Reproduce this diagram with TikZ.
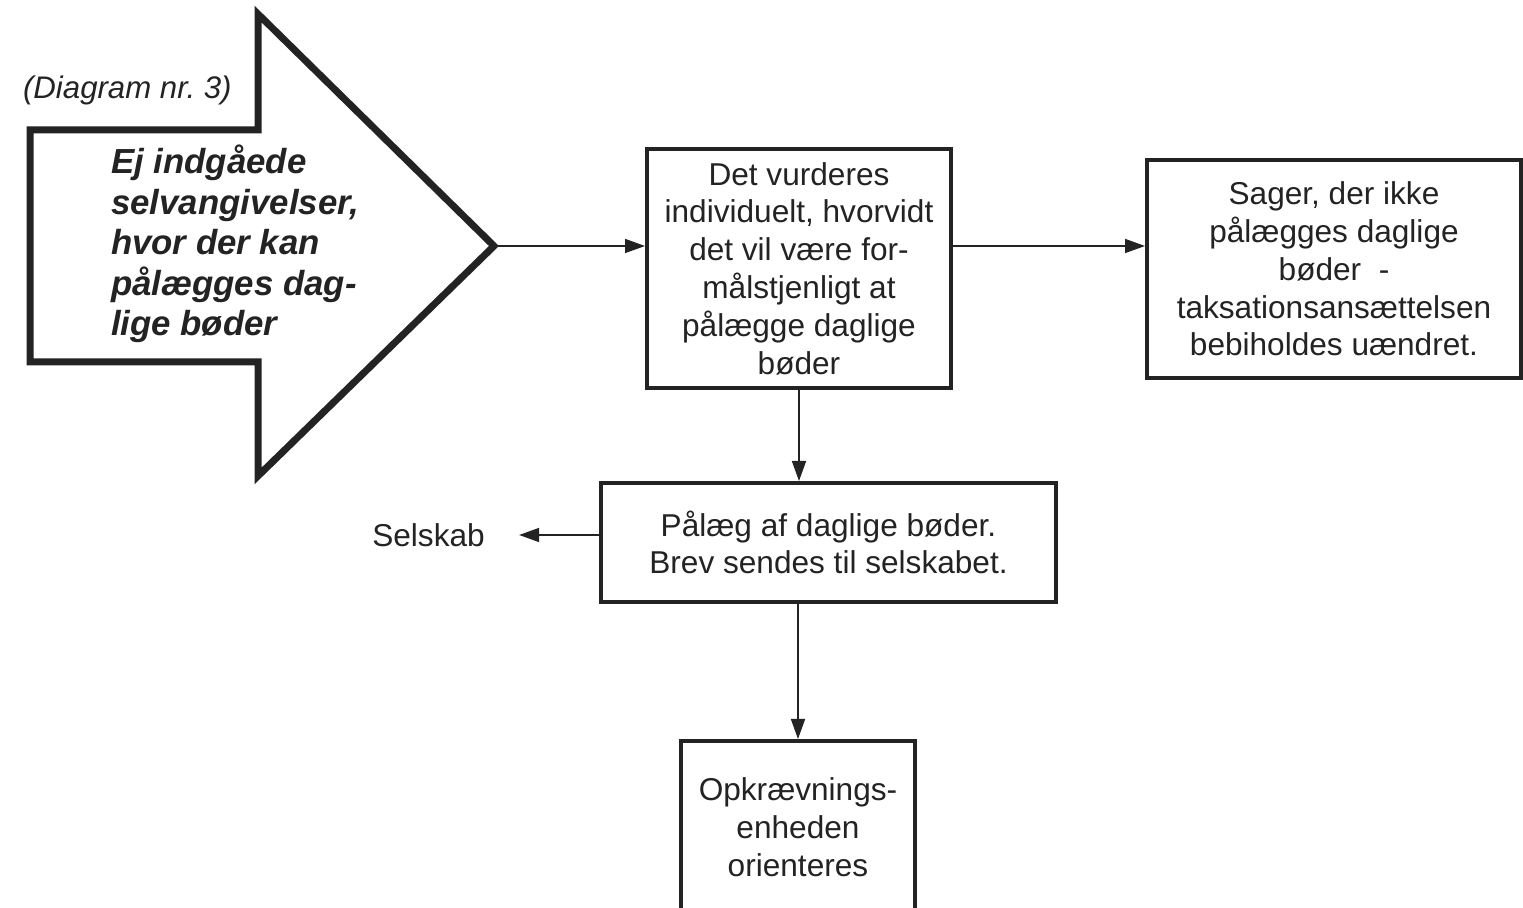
\documentclass[tikz,border=0pt]{standalone}
\usepackage{fontspec}
\setmainfont{Liberation Sans}
\usetikzlibrary{arrows.meta}
\definecolor{ink}{HTML}{232323}
\newcommand{\boxfont}{\fontsize{15.8}{18.9}\selectfont}
\begin{document}
\begin{tikzpicture}[x=0.5pt,y=-0.5pt,
  every node/.style={text=ink},
  flowbox/.style={draw=ink, line width=2pt, fill=white, align=center, inner sep=0pt, font=\boxfont},
  conn/.style={draw=ink, line width=0.8pt, -{Triangle[length=10pt,width=7pt]}}]
  \useasboundingbox (0,0) rectangle (1523,908);
  \clip (0,0) rectangle (1523,908);
  \fill[white] (0,0) rectangle (1523,908);

  % big entry arrow
  \draw[ink, line width=3.5pt, line join=miter]
    (30,130) -- (258,130) -- (258,14) -- (494,246) -- (258,476) -- (258,362) -- (30,362) -- cycle;
  \coordinate (tip) at (496,246);
  \node[anchor=west, align=left, font=\fontsize{17.4}{20.3}\selectfont\bfseries\itshape]
    (entry) at (104,244) {Ej indgåede\\selvangivelser,\\hvor der kan\\pålægges dag-\\lige bøder};
  \node[anchor=west, font=\fontsize{15.6}{18}\selectfont\itshape] (caption) at (16,90) {(Diagram nr.\ 3)};

  % process boxes (sizes in pt, half the pixel size)
  \node[flowbox, minimum width=152pt, minimum height=119.5pt] (assess) at (799,268.5)
    {Det vurderes\\individuelt, hvorvidt\\det vil være for-\\målstjenligt at\\pålægge daglige\\bøder};
  \node[flowbox, minimum width=187pt, minimum height=109pt] (nofine) at (1334,269)
    {Sager, der ikke\\pålægges daglige\\bøder\ \ -\\taksationsansættelsen\\bebiholdes uændret.};
  \node[flowbox, minimum width=227.5pt, minimum height=59.5pt] (impose) at (828.5,542.5)
    {Pålæg af daglige bøder.\\Brev sendes til selskabet.};
  \node[flowbox, minimum width=117pt, minimum height=86pt] (collect) at (798,827)
    {Opkrævnings-\\enheden\\orienteres};
  \node[font=\boxfont, inner xsep=0pt] (company) at (428.5,535) {Selskab};

  % connectors
  \draw[conn] (tip) -- (assess.west |- tip);
  \draw[conn] (assess.east |- tip) -- (nofine.west |- tip);
  \draw[conn] (assess.south) -- (impose.north -| assess.south);
  \draw[conn] (impose.south -| collect.north) -- (collect.north);
  \draw[conn, shorten >=17pt] (impose.west |- company.east) -- (company.east);
\end{tikzpicture}
\end{document}
